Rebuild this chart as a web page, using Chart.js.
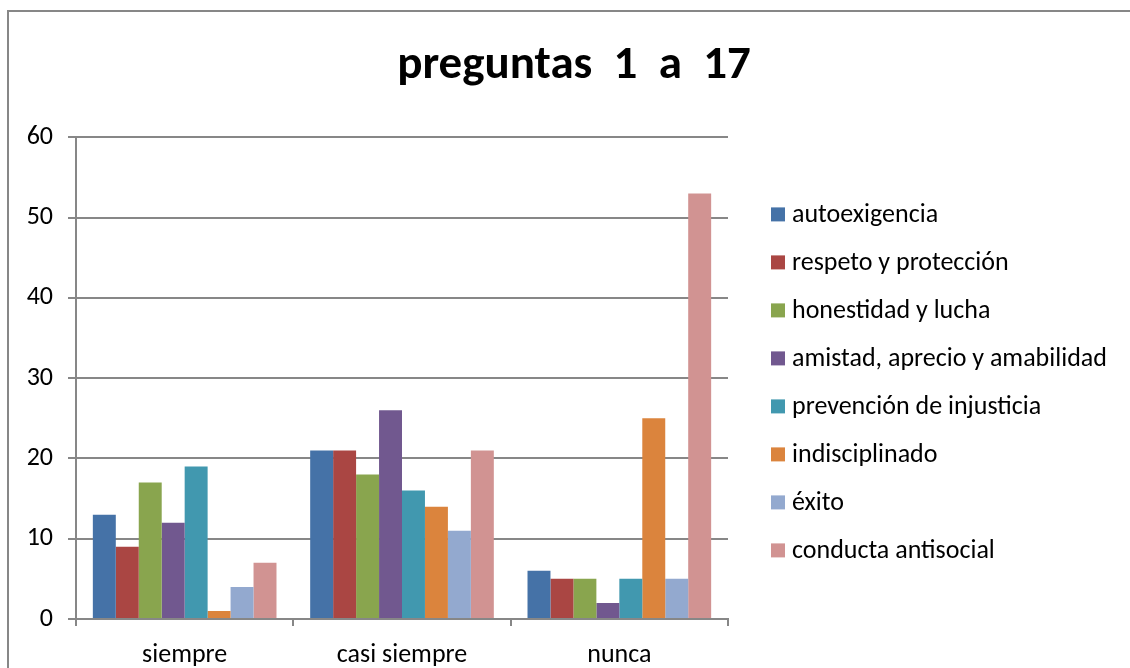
<!DOCTYPE html>
<html>
<head>
<meta charset="utf-8">
<script src="https://cdn.jsdelivr.net/npm/chart.js@4/dist/chart.umd.min.js"></script>
<style>
  html, body { margin: 0; padding: 0; background: #fff; }
  #wrap { width: 1130px; height: 668px; }
</style>
</head>
<body>
<div id="wrap"><canvas id="main-canvas" width="1130" height="668"></canvas></div>
<script>
"use strict";
const CATEGORIES = ['siempre', 'casi siempre', 'nunca'];
const SERIES_NAMES = ['autoexigencia', 'respeto y protección', 'honestidad y lucha',
    'amistad, aprecio y amabilidad', 'prevención de injusticia', 'indisciplinado',
    'éxito', 'conducta antisocial'];
const AUTOEXIGENCIA = [13, 21, 6];
const RESPETO = [9, 21, 5];
const HONESTIDAD = [17, 18, 5];
const AMISTAD = [12, 26, 2];
const PREVENCION = [19, 16, 5];
const INDISCIPLINADO = [1, 14, 25];
const EXITO = [4, 11, 5];
const ANTISOCIAL = [7, 21, 53];
const Y_TICKS = [0, 10, 20, 30, 40, 50, 60];

const SERIES_VALUES = [AUTOEXIGENCIA, RESPETO, HONESTIDAD, AMISTAD, PREVENCION,
    INDISCIPLINADO, EXITO, ANTISOCIAL];
const COLORS = ['#4572A7', '#AA4643', '#89A54E', '#71588F', '#4198AF', '#DB843D',
    '#93A9CF', '#D19392'];
const FONT = 'Carlito, Calibri, "Open Sans", sans-serif';
const GRAY = '#878787';

// outer frame of the chart object, title centred on the whole frame
const framePlugin = {
    id: 'frame',
    afterLayout(chart) {
        let t = chart.titleBlock;
        if (t) {
            t.left = 0;
            t.right = 1148;
            t.width = 1148;
        }
    },
    beforeDraw(chart) {
        let ctx = chart.ctx;
        ctx.save();
        ctx.strokeStyle = GRAY;
        ctx.lineWidth = 2;
        ctx.strokeRect(8, 11, 1140, 700);
        ctx.restore();
    }
};

// legend on the right, one row per dataset
const sideLegend = {
    id: 'sideLegend',
    afterDraw(chart) {
        let ctx = chart.ctx;
        let area = chart.chartArea;
        let x = area.right + 43;
        let y0 = area.top + 77;
        ctx.save();
        ctx.font = '26px ' + FONT;
        ctx.textBaseline = 'middle';
        chart.data.datasets.forEach((ds, i) => {
            let y = y0 + i * 48;
            ctx.fillStyle = ds.backgroundColor;
            ctx.fillRect(x, y - 7, 14, 14);
            ctx.fillStyle = '#000';
            ctx.fillText(ds.label, x + 21, y + 1);
        });
        ctx.restore();
    }
};

let datasets = SERIES_NAMES.map((name, i) => ({
    label: name,
    data: SERIES_VALUES[i],
    backgroundColor: COLORS[i],
    borderWidth: 0,
    barPercentage: 1.0,
    categoryPercentage: 0.845,
}));

new Chart($id('main-canvas'), {
    type: 'bar',
    data: { labels: CATEGORIES, datasets: datasets },
    plugins: [framePlugin, sideLegend],
    options: {
        responsive: false,
        animation: false,
        layout: { padding: { left: 0, right: 402, top: 0, bottom: 1 } },
        plugins: {
            title: {
                display: true,
                text: 'preguntas  1  a  17',
                color: '#000',
                font: { family: FONT, size: 47, weight: 'bold' },
                padding: { top: 38, bottom: 43 },
            },
            legend: { display: false },
            tooltip: { enabled: false },
        },
        scales: {
            x: {
                afterFit: axis => { axis.height = 48; },
                grid: {
                    offset: true,
                    drawOnChartArea: false,
                    color: GRAY,
                    lineWidth: 2,
                    tickLength: 7,
                },
                border: { color: GRAY, width: 2 },
                ticks: { color: '#000', font: { family: FONT, size: 26, lineHeight: 1 }, padding: 16 },
            },
            y: {
                min: 0,
                max: 60,
                afterBuildTicks: axis => { axis.ticks = Y_TICKS.map(v => ({ value: v })); },
                afterFit: axis => { axis.width = 76; },
                grid: { color: GRAY, lineWidth: 2, tickLength: 8 },
                border: { color: GRAY, width: 2 },
                ticks: { color: '#000', font: { family: FONT, size: 26 }, padding: 15 },
            },
        },
    },
});

function $id(id) { return document.getElementById(id); }
</script>
</body>
</html>
